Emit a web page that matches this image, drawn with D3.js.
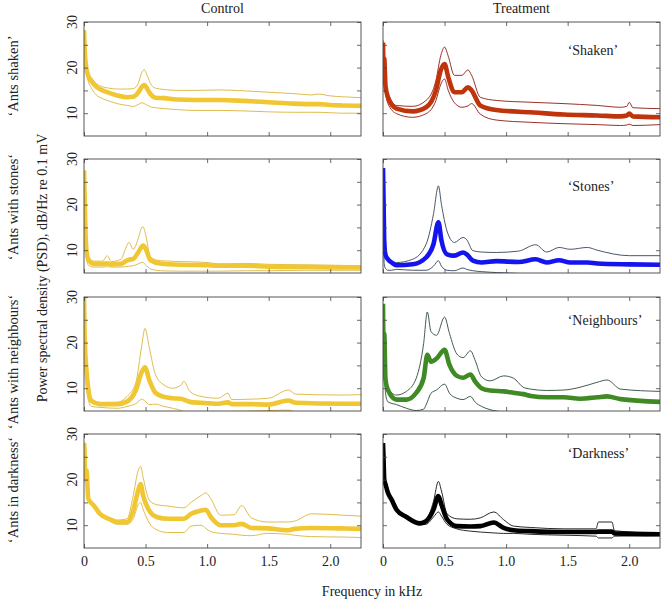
<!DOCTYPE html>
<html><head><meta charset="utf-8">
<script src="https://cdn.jsdelivr.net/npm/d3@7"></script>
<style>body{margin:0;background:#fff}text{font-family:"Liberation Serif","Times New Roman",serif;fill:#222}</style>
</head><body><svg id="c" width="664" height="602"></svg>
<script>
// ---------- DATA ----------
const columnTitles = ["Control", "Treatment"];
const rowLabels = ["‘Ants shaken’", "‘Ants with stones‘", "‘Ants with neighbours‘", "‘Ants in darkness‘"];
const treatmentLabels = ["‘Shaken’", "‘Stones’", "‘Neighbours’", "‘Darkness’"];
const xTickValues = [0, 0.5, 1.0, 1.5, 2.0];
const xTickLabels = ["0", "0.5", "1.0", "1.5", "2.0"];
const yTickValues = [10, 15, 20, 25, 30];
const yTickLabels = ["10", "", "20", "", "30"];
const xLabel = "Frequency in kHz";
const yLabel = "Power spectral density (PSD), dB/Hz re 0.1 mV";

// Control, shaken
const cShakenF    = [0, 0.01, 0.03, 0.06, 0.1, 0.15, 0.2, 0.27, 0.35, 0.4, 0.44, 0.47, 0.49, 0.51, 0.54, 0.58, 0.65, 0.75, 0.9, 1.1, 1.3, 1.5, 1.7, 1.85, 1.9, 2.0, 2.1, 2.25];
const cShakenMean = [28.2, 22, 18.5, 17, 15.8, 15, 14.5, 13.9, 13.5, 13.6, 14.5, 15.8, 16.2, 15.5, 14.2, 13.4, 13.3, 13.0, 12.9, 12.9, 12.7, 12.4, 12.1, 12.0, 12.0, 11.8, 11.7, 11.6];
const cShakenUp   = [28.2, 22, 19, 17.8, 16.5, 15.8, 15.5, 15.3, 15.3, 15.4, 16.5, 19.0, 19.5, 18.5, 16.5, 15.5, 15.2, 15.0, 15.0, 15.1, 14.9, 14.6, 14.3, 14.0, 14.2, 13.8, 13.6, 13.4];
const cShakenLo   = [28.2, 21, 17.5, 15.5, 14, 13.2, 12.7, 12.1, 11.7, 11.5, 11.9, 12.3, 12.1, 11.8, 11.4, 11.2, 11.0, 10.8, 10.6, 10.6, 10.5, 10.3, 10.2, 10.2, 10.2, 10.1, 10.0, 10.0];

// Treatment, shaken
const tShakenF    = [0, 0.005, 0.01, 0.02, 0.04, 0.11, 0.24, 0.35, 0.43, 0.47, 0.5, 0.53, 0.58, 0.64, 0.69, 0.72, 0.79, 0.92, 1.2, 1.47, 1.74, 1.93, 1.98, 2.0, 2.03, 2.25];
const tShakenMean = [25.5, 20, 22, 16, 13.5, 11, 10.4, 11.3, 15, 19.5, 20.8, 17.9, 14.6, 14.6, 15.7, 15, 11.7, 10.7, 10.2, 9.7, 9.5, 9.3, 9.5, 9.9, 9.3, 9.1];
const tShakenUp   = [26, 21, 23, 17, 14.5, 11.7, 11.5, 12.8, 17.2, 22.7, 24.5, 22.5, 18.3, 18.3, 19.5, 18.3, 13.5, 12.8, 12.4, 12.1, 11.7, 11.3, 11.5, 12.4, 11.2, 11.0];
const tShakenLo   = [25, 19, 21, 15, 12.1, 9.9, 9.1, 9.9, 12.8, 16.4, 17.5, 15.0, 12.3, 11.3, 11.6, 12.1, 9.8, 8.5, 8.0, 7.7, 7.5, 7.3, 7.4, 7.6, 7.3, 7.5];

// Control, stones
const cStonesF    = [0, 0.005, 0.01, 0.02, 0.04, 0.08, 0.15, 0.19, 0.22, 0.3, 0.34, 0.365, 0.4, 0.44, 0.47, 0.48, 0.5, 0.54, 0.62, 0.8, 1.0, 1.1, 1.32, 1.5, 1.8, 2.25];
const cStonesMean = [27.5, 22, 16, 10, 7.7, 7.0, 7.0, 7.1, 6.9, 7.0, 7.6, 7.9, 8.1, 9.5, 10.8, 11.0, 10.4, 7.8, 7.1, 6.8, 6.7, 6.6, 6.6, 6.4, 6.3, 6.2];
const cStonesUp   = [27.5, 23, 17, 11, 8.4, 7.6, 7.6, 8.8, 7.5, 8.0, 10.5, 11.7, 10.2, 12.5, 15.0, 15.1, 13.5, 8.5, 7.7, 7.5, 7.3, 7.0, 7.1, 6.9, 6.8, 6.6];
const cStonesLo   = [27, 18, 12, 8, 6.6, 6.3, 6.3, 6.4, 6.3, 6.3, 6.4, 6.5, 6.6, 7.0, 7.3, 7.3, 6.8, 5.9, 5.5, 5.4, 5.4, 5.4, 5.5, 5.5, 5.6, 5.6];

// Treatment, stones
const tStonesF    = [0, 0.005, 0.01, 0.02, 0.04, 0.07, 0.11, 0.24, 0.35, 0.41, 0.45, 0.475, 0.52, 0.58, 0.65, 0.68, 0.73, 0.8, 0.92, 1.1, 1.24, 1.33, 1.43, 1.52, 1.66, 1.74, 2.0, 2.25];
const tStonesMean = [28, 20, 12, 9, 8, 7.3, 6.7, 6.9, 8.4, 11.3, 16.1, 12.1, 9.1, 8.8, 9.5, 9.1, 7.7, 7.3, 7.6, 7.4, 8.0, 7.3, 7.8, 7.3, 7.3, 7.1, 6.9, 6.8];
const tStonesUp   = [28, 21, 13, 10, 8.5, 7.4, 7.3, 8.0, 11.3, 17.9, 24.1, 20, 14.2, 11.7, 12.8, 12.3, 9.9, 9.6, 9.5, 9.8, 11.2, 9.6, 10.6, 10.2, 10.6, 10.0, 8.8, 8.8];
const tStonesLo   = [27, 15, 7, 6, 5.6, 5.6, 5.8, 5.6, 5.6, 6.5, 7.7, 6.5, 5.6, 5.5, 6.1, 5.8, 5.5, 5.3, 5.1, 4.9, 4.8, 4.7, 4.7, 4.6, 4.6, 4.5, 4.5, 4.5];

// Control, neighbours
const cNeighF    = [0, 0.005, 0.01, 0.02, 0.03, 0.06, 0.13, 0.27, 0.35, 0.42, 0.47, 0.495, 0.53, 0.58, 0.65, 0.72, 0.79, 0.81, 0.86, 0.95, 1.09, 1.17, 1.2, 1.36, 1.5, 1.66, 1.72, 2.1, 2.25];
const cNeighMean = [30, 22, 18, 14, 11, 7.2, 6.5, 6.5, 7.1, 9.5, 13.6, 14.6, 11.8, 9.0, 8.1, 7.8, 7.7, 7.5, 7.0, 6.8, 6.6, 6.9, 6.5, 6.5, 6.4, 7.3, 6.8, 6.6, 6.6];
const cNeighUp   = [30, 24, 20, 15, 12, 7.8, 6.8, 6.9, 8.2, 11.1, 19.5, 23.1, 19, 13, 10.7, 10.0, 10.7, 11.5, 9.3, 8.2, 7.8, 8.9, 7.5, 7.6, 7.8, 9.6, 8.7, 8.5, 8.6];
const cNeighLo   = [30, 18, 14, 10, 8, 6.0, 5.8, 5.6, 6.0, 6.6, 7.6, 7.2, 6.4, 6.5, 6.0, 5.6, 5.1, 4.9, 4.9, 4.9, 4.9, 4.9, 4.9, 5.0, 5.1, 5.2, 4.8, 4.7, 4.7];

// Treatment, neighbours
const tNeighF    = [0, 0.005, 0.01, 0.02, 0.04, 0.11, 0.19, 0.27, 0.33, 0.36, 0.39, 0.435, 0.5, 0.54, 0.6, 0.65, 0.71, 0.75, 0.8, 0.87, 0.98, 1.06, 1.14, 1.2, 1.33, 1.47, 1.6, 1.74, 1.82, 1.93, 2.25];
const tNeighMean = [28.5, 18, 22, 12, 9.6, 7.5, 7.5, 9.0, 12.2, 17.3, 15.8, 16.5, 18.4, 15.1, 12.7, 12.3, 13.0, 11.4, 10, 9.5, 9.3, 9.0, 8.7, 8.3, 8.0, 8.0, 7.7, 8.0, 8.2, 7.6, 7.0];
const tNeighUp   = [28.5, 19, 23, 13, 10, 8.5, 9.3, 12.2, 19.8, 26.7, 22.4, 21.6, 25.6, 22.0, 17.5, 16.7, 18.2, 16.0, 12.5, 11.6, 12.7, 12.2, 10.2, 9.8, 9.5, 9.6, 10.2, 11.3, 11.8, 9.8, 9.3];
const tNeighLo   = [28, 15, 18, 9, 7, 6.4, 5.6, 5.1, 5.4, 7.0, 8.9, 9.6, 10.9, 8.9, 7.8, 7.5, 8.2, 6.9, 6.0, 5.3, 4.8, 4.7, 4.7, 4.8, 4.8, 4.8, 4.8, 4.8, 4.9, 4.7, 4.6];

// Control, darkness
const cDarkF    = [0, 0.005, 0.01, 0.02, 0.035, 0.08, 0.13, 0.21, 0.27, 0.35, 0.4, 0.44, 0.46, 0.48, 0.53, 0.59, 0.68, 0.81, 0.87, 0.95, 0.99, 1.03, 1.11, 1.22, 1.28, 1.36, 1.49, 1.66, 1.71, 1.85, 2.1, 2.25];
const cDarkMean = [28, 26, 20, 22, 15.8, 14.3, 12.5, 11.3, 10.7, 10.7, 13.2, 17.6, 19.0, 16.5, 13.2, 11.8, 11.4, 11.4, 12.5, 13.2, 13.4, 11.8, 10.0, 10.0, 10.3, 9.4, 9.3, 8.9, 9.2, 9.4, 9.3, 9.2];
const cDarkUp   = [28, 26, 20, 22, 16, 14.6, 12.8, 11.6, 11.1, 11.4, 16.5, 22.0, 22.9, 20.5, 15.5, 14.5, 14.2, 13.8, 15.0, 16.5, 17.1, 15.8, 12.2, 12.3, 14.3, 11.6, 10.7, 10.7, 10.9, 12.5, 12.2, 12.0];
const cDarkLo   = [28, 26, 20, 22, 15.5, 14.0, 12.2, 10.9, 10.2, 10.2, 11.4, 14.5, 15.0, 13.5, 10.5, 9.0, 8.4, 8.4, 9.8, 10.0, 9.3, 8.6, 8.2, 8.0, 7.8, 7.7, 8.2, 8.0, 7.8, 7.5, 7.4, 7.3];

// Treatment, darkness
const tDarkF    = [0, 0.005, 0.01, 0.02, 0.04, 0.07, 0.11, 0.19, 0.3, 0.35, 0.41, 0.45, 0.475, 0.52, 0.6, 0.71, 0.79, 0.9, 0.98, 1.06, 1.2, 1.47, 1.73, 1.75, 1.86, 1.88, 2.25];
const tDarkMean = [28.0, 24, 20, 19, 17.1, 15.6, 13.4, 11.8, 10.4, 10.9, 13.4, 16.4, 14.5, 11.3, 9.8, 9.7, 9.8, 10.6, 9.4, 8.9, 8.7, 8.5, 8.5, 8.6, 8.6, 8.2, 8.0];
const tDarkUp   = [28.0, 24, 20, 19, 17.3, 15.8, 13.6, 12.0, 10.7, 11.2, 15.2, 19.6, 17.5, 12.5, 11.4, 11.3, 11.6, 12.9, 11.2, 9.8, 9.5, 9.2, 9.2, 10.7, 10.7, 8.8, 8.2];
const tDarkLo   = [28.0, 24, 20, 19, 16.9, 15.4, 13.2, 11.6, 10.1, 10.2, 11.8, 12.9, 12.0, 10.2, 9.2, 8.7, 8.5, 8.3, 8.2, 8.2, 8.0, 7.8, 7.6, 7.2, 7.2, 7.6, 7.7];

// ---------- STYLE / LAYOUT ----------
const styles = {
  control:    {thick: "#f0c733", thin: "#dcb43a"},
  shaken:     {thick: "#c0340c", thin: "#8e1a12"},
  stones:     {thick: "#1414ee", thin: "#34445a"},
  neighbours: {thick: "#3f8a24", thin: "#2e4a3c"},
  darkness:   {thick: "#000000", thin: "#111111"}
};
const panels = [
  {row:0,col:0,f:cShakenF,m:cShakenMean,u:cShakenUp,l:cShakenLo,s:styles.control},
  {row:0,col:1,f:tShakenF,m:tShakenMean,u:tShakenUp,l:tShakenLo,s:styles.shaken,label:0,ly:23.9},
  {row:1,col:0,f:cStonesF,m:cStonesMean,u:cStonesUp,l:cStonesLo,s:styles.control},
  {row:1,col:1,f:tStonesF,m:tStonesMean,u:tStonesUp,l:tStonesLo,s:styles.stones,label:1,ly:24},
  {row:2,col:0,f:cNeighF,m:cNeighMean,u:cNeighUp,l:cNeighLo,s:styles.control},
  {row:2,col:1,f:tNeighF,m:tNeighMean,u:tNeighUp,l:tNeighLo,s:styles.neighbours,label:2,ly:25},
  {row:3,col:0,f:cDarkF,m:cDarkMean,u:cDarkUp,l:cDarkLo,s:styles.control},
  {row:3,col:1,f:tDarkF,m:tDarkMean,u:tDarkUp,l:tDarkLo,s:styles.darkness,label:3,ly:25.9}
];

const svg = d3.select("#c");
const colX = [84, 383], pw = 277, rowY = [22, 159, 297, 434], ph = 114;
const rowLabelY = [76, 207, 362, 490];
const x = d3.scaleLinear().domain([0, 2.25]).range([0, pw]);
const y = d3.scaleLinear().domain([5, 30]).range([ph, 0]);
const FS = 14;

// titles
columnTitles.forEach((t, i) => {
  svg.append("text").attr("x", colX[i] + pw / 2).attr("y", 13)
    .attr("text-anchor", "middle").attr("font-size", FS).text(t);
});

panels.forEach((p, i) => {
  const g = svg.append("g").attr("transform", `translate(${colX[p.col]},${rowY[p.row]})`);
  const cid = "clip" + i;
  g.append("clipPath").attr("id", cid).append("rect").attr("width", pw).attr("height", ph);
  const pts = k => p.f.map((f, j) => [f, k[j]]);
  const line = d3.line().x(d => x(d[0])).y(d => y(d[1])).curve(d3.curveMonotoneX);
  const lg = g.append("g").attr("clip-path", `url(#${cid})`);
  [p.u, p.l].forEach(arr => lg.append("path").attr("d", line(pts(arr)))
    .attr("fill", "none").attr("stroke", p.s.thin).attr("stroke-width", 0.9));
  lg.append("path").attr("d", line(pts(p.m)))
    .attr("fill", "none").attr("stroke", p.s.thick).attr("stroke-width", 4.6)
    .attr("stroke-linejoin", "round");

  // ticks (inward on all four sides)
  const bottom = p.row === 3;
  const axB = d3.axisBottom(x).tickValues(xTickValues).tickSizeInner(-4).tickSizeOuter(0)
    .tickPadding(8).tickFormat((d, j) => bottom ? xTickLabels[j] : "");
  const axT = d3.axisTop(x).tickValues(xTickValues).tickSizeInner(-4).tickSizeOuter(0).tickFormat("");
  const axL = d3.axisLeft(y).tickValues(yTickValues).tickSizeInner(-4).tickSizeOuter(0).tickFormat("");
  const axR = d3.axisRight(y).tickValues(yTickValues).tickSizeInner(-4).tickSizeOuter(0).tickFormat("");
  const gb = g.append("g").attr("transform", `translate(0,${ph})`).call(axB);
  g.append("g").call(axT);
  g.append("g").call(axL);
  g.append("g").attr("transform", `translate(${pw},0)`).call(axR);
  g.selectAll(".domain").remove();
  g.selectAll(".tick line").attr("stroke", "#444").attr("stroke-width", 0.8);
  gb.selectAll("text").attr("font-size", FS).attr("font-family", '"Liberation Serif",serif').attr("fill", "#222");
  g.append("rect").attr("width", pw).attr("height", ph).attr("fill", "none")
    .attr("stroke", "#444").attr("stroke-width", 0.9);

  // rotated y tick labels on left column
  if (p.col === 0) {
    yTickValues.forEach((v, j) => {
      if (!yTickLabels[j]) return;
      g.append("text").attr("transform", `translate(-12,${y(v)}) rotate(-90)`)
        .attr("text-anchor", "middle").attr("dy", "0.35em").attr("font-size", FS).text(yTickLabels[j]);
    });
  }
  if (p.label !== undefined) {
    g.append("text").attr("x", x(1.5)).attr("y", y(p.ly)).attr("dy", "0.35em")
      .attr("font-size", FS).text(treatmentLabels[p.label]);
  }
});

// row labels
rowLabels.forEach((t, i) => {
  svg.append("text").attr("transform", `translate(13,${rowLabelY[i]}) rotate(-90)`)
    .attr("text-anchor", "middle").attr("dy", "0.35em").attr("font-size", 14.5).text(t);
});
// axis labels
svg.append("text").attr("transform", `translate(42,268) rotate(-90)`)
  .attr("text-anchor", "middle").attr("dy", "0.35em").attr("font-size", FS).text(yLabel);
svg.append("text").attr("x", (colX[0] + colX[1] + pw) / 2).attr("y", 596)
  .attr("text-anchor", "middle").attr("font-size", FS).text(xLabel);
</script></body></html>
